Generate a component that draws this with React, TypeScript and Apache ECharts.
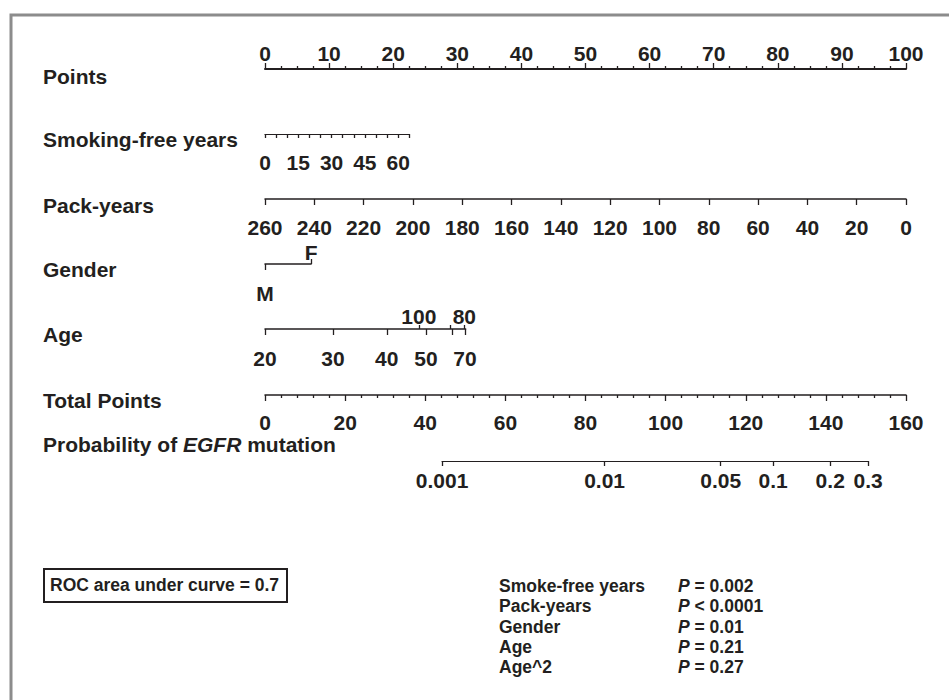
import React, { useEffect, useRef } from "react";
import * as echarts from "echarts";

// ---------- data ----------
const pointsRange = [0, 100];
const smokeFreeYearsRange = [0, 65];
const smokeFreeYearsLabels = [0, 15, 30, 45, 60];
const smokeFreeYearsMaxPoints = 22.5;
const packYearsRange = [0, 260];
const genderLevels = ["M", "F"];
const genderPoints = [0, 7.2];
const ageValues = [20, 30, 40, 50, 60, 70, 80, 90, 100];
const agePoints = [0, 10.6, 19.0, 25.1, 29.2, 31.2, 31.1, 28.9, 24.0];
const ageLowerTicks = [20, 30, 40, 50, 60, 70];
const ageLowerLabels = [20, 30, 40, 50, 70];
const ageUpperTicks = [80, 90, 100];
const ageUpperLabels = [80, 100];
const ageMaxPoints = 31.3;
const totalPointsRange = [0, 160];
const probTicks = [0.001, 0.01, 0.05, 0.1, 0.2, 0.3];
const probLabels = ["0.001", "0.01", "0.05", "0.1", "0.2", "0.3"];
const totalPointsAtLowestProb = 44.2;
const totalPointsPerLogit = 17.55;
const rowTitles = ["Points", "Smoking-free years", "Pack-years", "Gender", "Age", "Total Points"];
const pTerms = ["Smoke-free years", "Pack-years", "Gender", "Age", "Age^2"];
const pSigns = ["=", "<", "=", "=", "="];
const pValues = ["0.002", "0.0001", "0.01", "0.21", "0.27"];
const rocText = "ROC area under curve = 0.7";

// ---------- layout ----------
const FONT = "Liberation Sans, Arial, Helvetica, sans-serif";
const INK = "#231f20";
const FS = 21;
const FS_SMALL = 17.5;
const X0 = 265;
const X1 = 906;
const PXP = (X1 - X0) / (pointsRange[1] - pointsRange[0]);
const PXT = (X1 - X0) / (totalPointsRange[1] - totalPointsRange[0]);
const rowY = [69, 134, 199, 264, 329, 395, 461];
const titleY = [76, 139, 205, 269, 334, 400, 444];

const logit = (p: number) => Math.log(p / (1 - p));
const ageP = (a: number) => agePoints[ageValues.indexOf(a)];
const nearest = (v: number, vals: number[], labels: (string | number)[]) => {
  let best = 0;
  let d = Infinity;
  vals.forEach((x, i) => {
    const dd = Math.abs(x - v);
    if (dd < d) {
      d = dd;
      best = i;
    }
  });
  return String(labels[best]);
};

const lineStyle = { color: INK, width: 1.5 };
const tickStyle = { color: INK, width: 1.3 };
const labelBase = { color: INK, fontFamily: FONT, fontWeight: "bold" as const, fontSize: FS };

function buildOption() {
  const grids: any[] = [];
  const xAxes: any[] = [];
  const yAxes: any[] = [];
  const addGrid = (top: number, left: number, width: number) => {
    grids.push({ top, left, width, height: 0, outerBoundsMode: "none", containLabel: false });
    yAxes.push({ type: "value", gridIndex: grids.length - 1, show: false, min: 0, max: 1 });
    return grids.length - 1;
  };
  const axis = (gi: number, position: string, o: any) => ({
    type: "value",
    gridIndex: gi,
    position,
    splitLine: { show: false },
    ...o,
    axisLine: { show: true, onZero: false, lineStyle, ...(o.axisLine || {}) },
    axisTick: { show: true, length: 5, lineStyle: tickStyle, ...(o.axisTick || {}) },
    axisLabel: { ...labelBase, ...(o.axisLabel || {}) },
  });

  // Points
  let g = addGrid(rowY[0], X0, X1 - X0);
  xAxes.push(
    axis(g, "top", {
      min: pointsRange[0],
      max: pointsRange[1],
      interval: 10,
      axisLine: { lineStyle: { color: INK, width: 2 } },
      axisTick: { length: 6 },
      minorTick: { show: true, splitNumber: 4, length: 3, lineStyle: tickStyle },
      axisLabel: { margin: 5 },
    })
  );
  // Smoking-free years
  g = addGrid(rowY[1], X0, smokeFreeYearsMaxPoints * PXP);
  xAxes.push(
    axis(g, "bottom", {
      min: smokeFreeYearsRange[0],
      max: smokeFreeYearsRange[1],
      interval: 5,
      axisLine: { lineStyle: { color: INK, width: 1.2 } },
      axisTick: { length: 4 },
      axisLabel: { margin: 18, customValues: smokeFreeYearsLabels },
    })
  );
  // Pack-years
  g = addGrid(rowY[2], X0, X1 - X0);
  xAxes.push(
    axis(g, "bottom", {
      min: packYearsRange[0],
      max: packYearsRange[1],
      interval: 20,
      inverse: true,
      axisTick: { length: 6 },
      axisLabel: { margin: 18 },
    })
  );
  // Gender
  g = addGrid(rowY[3], X0, genderPoints[1] * PXP);
  xAxes.push(
    axis(g, "bottom", {
      min: 0,
      max: genderPoints[1],
      axisTick: { length: 6, customValues: [genderPoints[0]] },
      axisLabel: {
        margin: 19,
        customValues: [genderPoints[0]],
        formatter: (v: number) => nearest(v, genderPoints, genderLevels),
      },
    })
  );
  xAxes.push(
    axis(g, "top", {
      min: 0,
      max: genderPoints[1],
      axisLine: { show: false },
      axisTick: { length: 5, customValues: [genderPoints[1]] },
      axisLabel: {
        margin: 1.5,
        customValues: [genderPoints[1]],
        formatter: (v: number) => nearest(v, genderPoints, genderLevels),
      },
    })
  );
  // Age
  g = addGrid(rowY[4], X0, ageMaxPoints * PXP);
  xAxes.push(
    axis(g, "bottom", {
      min: 0,
      max: ageMaxPoints,
      axisTick: { length: 6, customValues: ageLowerTicks.map(ageP) },
      axisLabel: {
        margin: 19,
        customValues: ageLowerLabels.map(ageP),
        formatter: (v: number) => nearest(v, ageLowerLabels.map(ageP), ageLowerLabels),
      },
    })
  );
  xAxes.push(
    axis(g, "top", {
      min: 0,
      max: ageMaxPoints,
      axisLine: { show: false },
      axisTick: { length: 4, customValues: ageUpperTicks.map(ageP) },
      axisLabel: {
        margin: 2.5,
        customValues: ageUpperLabels.map(ageP),
        formatter: (v: number) => nearest(v, ageUpperLabels.map(ageP), ageUpperLabels),
      },
    })
  );
  // Total points
  g = addGrid(rowY[5], X0, X1 - X0);
  xAxes.push(
    axis(g, "bottom", {
      min: totalPointsRange[0],
      max: totalPointsRange[1],
      interval: 20,
      axisTick: { length: 6 },
      minorTick: { show: true, splitNumber: 5, length: 3, lineStyle: tickStyle },
      axisLabel: { margin: 16.5 },
    })
  );
  // Probability
  const lo = logit(probTicks[0]);
  const hi = logit(probTicks[probTicks.length - 1]);
  const xOfLogit = (l: number) => X0 + (totalPointsAtLowestProb + (l - lo) * totalPointsPerLogit) * PXT;
  g = addGrid(rowY[6], xOfLogit(lo), xOfLogit(hi) - xOfLogit(lo));
  const probLogits = probTicks.map(logit);
  xAxes.push(
    axis(g, "bottom", {
      min: lo,
      max: hi,
      axisLine: { lineStyle: { color: INK, width: 1.2 } },
      axisTick: { length: 5, customValues: probLogits },
      axisLabel: {
        margin: 8.5,
        customValues: probLogits,
        formatter: (v: number) => nearest(v, probLogits, probLabels),
      },
    })
  );

  const txt = (x: number, y: number, text: string, size: number, extra: any = {}) => ({
    type: "text",
    x,
    y,
    style: {
      text,
      fill: INK,
      fontFamily: FONT,
      fontWeight: "bold",
      fontSize: size,
      verticalAlign: "middle",
      align: "left",
      ...extra,
    },
  });
  const richSize = (size: number) => ({
    b: { fontFamily: FONT, fontWeight: "bold", fontSize: size, fill: INK, color: INK },
    i: { fontFamily: FONT, fontWeight: "bold", fontStyle: "italic", fontSize: size, fill: INK, color: INK },
  });

  const graphics: any[] = [
    {
      type: "rect",
      shape: { x: 11, y: 15, width: 1000, height: 800 },
      style: { fill: "none", stroke: "#8c8c8c", lineWidth: 3 },
      silent: true,
    },
    ...rowTitles.map((t, i) => txt(43, titleY[i], t, FS)),
    txt(43, titleY[6], "{b|Probability of }{i|EGFR}{b| mutation}", FS, { rich: richSize(FS) }),
    {
      type: "rect",
      shape: { x: 44, y: 569, width: 243, height: 33 },
      style: { fill: "none", stroke: INK, lineWidth: 2 },
    },
    txt(50, 585, rocText, FS_SMALL),
    ...pTerms.map((t, i) => txt(499, 586 + i * 20.3, t, FS_SMALL)),
    ...pValues.map((v, i) =>
      txt(678, 586 + i * 20.3, `{i|P}{b| ${pSigns[i]} ${v}}`, FS_SMALL, { rich: richSize(FS_SMALL) })
    ),
  ];

  return {
    animation: false,
    backgroundColor: "#ffffff",
    grid: grids,
    xAxis: xAxes,
    yAxis: yAxes,
    series: [],
    graphic: graphics,
  };
}

export default function App() {
  const ref = useRef<HTMLDivElement>(null);
  useEffect(() => {
    if (!ref.current) return;
    const chart = echarts.init(ref.current, undefined, { renderer: "svg" });
    chart.setOption(buildOption() as any);
    return () => chart.dispose();
  }, []);
  return (
    <div
      ref={ref}
      style={{ position: "absolute", left: 0, top: 0, width: 949, height: 700, background: "#fff" }}
    />
  );
}
